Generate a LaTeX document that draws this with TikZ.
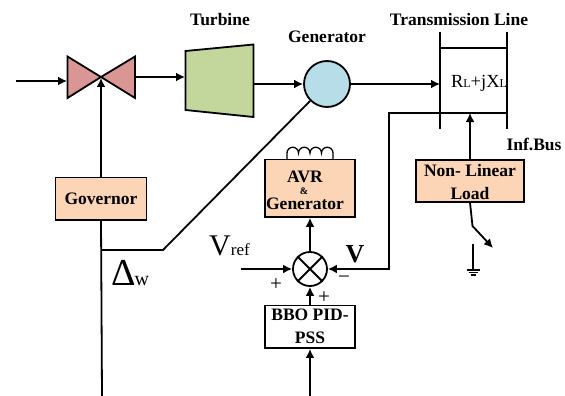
\documentclass[tikz,border=0pt]{standalone}
\usepackage{fontspec}
\setmainfont{Liberation Serif}
\usetikzlibrary{arrows.meta}
\tikzset{
  wire/.style={line width=1.8pt,-{Latex[length=9pt,width=9pt]}},
  plain/.style={line width=1.8pt},
  org/.style={draw,line width=1.8pt,fill=boxorange,inner sep=0pt},
  lab/.style={font=\fontsize{17.5}{18}\selectfont\bfseries,inner sep=0pt},
  thin lab/.style={font=\fontsize{21}{22}\selectfont,inner sep=0pt}
}
\definecolor{boxorange}{HTML}{FBD5B5}
\definecolor{valvered}{HTML}{D99694}
\definecolor{turbgreen}{HTML}{C3D69B}
\definecolor{genblue}{HTML}{B7DDE8}
\begin{document}
\begin{tikzpicture}[x=1pt,y=-1pt]
\useasboundingbox (0,0) rectangle (565,396);
% valve
\draw[plain,fill=valvered,line join=miter] (67.5,56.5) -- (101,77) -- (67.5,98) -- cycle;
\draw[plain,fill=valvered,line join=miter] (135,56.5) -- (101,77) -- (135,98) -- cycle;
\coordinate (valveIn) at (67,81);
\coordinate (valveOut) at (135,77);
\coordinate (valveMid) at (101,78);
\coordinate (src) at (16,81);
% turbine
\draw[plain,fill=turbgreen] (185.5,51) -- (253.5,44.5) -- (253.5,117) -- (185.5,110) -- cycle;
\coordinate (turbIn) at (185,77);
\coordinate (turbOut) at (253.5,84);
% generator
\node[draw,circle,line width=1.8pt,fill=genblue,minimum size=46pt,inner sep=0pt] (gen) at (327,84) {};
% transmission line
\coordinate (tlA) at (440,32); \coordinate (tlB) at (440,129);
\coordinate (tlC) at (507,32); \coordinate (tlD) at (507,129);
\draw[plain] (tlA) -- (tlB);
\draw[plain] (tlC) -- (tlD);
\draw[plain] (440,48) -- (507,48);
\coordinate (tlIn) at (440,84);
\coordinate (tlLoad) at (470,113);
\coordinate (tlRight) at (507,113);
\coordinate (tlCorner) at (389,113);
\coordinate (fbCorner) at (389,269);
% boxes
\node[org,minimum width=91pt,minimum height=42.5pt] (gov) at (101,198.7) {};
\node[org,minimum width=90.5pt,minimum height=57.5pt] (avr) at (310,188.2) {};
\node[org,minimum width=108pt,minimum height=42pt] (load) at (470,180.6) {};
\node[draw,line width=1.8pt,fill=white,minimum width=90.5pt,minimum height=42.5pt,inner sep=0pt] (bbo) at (310,326.8) {};
% sum
\node[draw,circle,line width=1.8pt,fill=white,minimum size=34pt,inner sep=0pt] (sum) at (310,269) {};
\draw[plain] (sum.45) -- (sum.225) (sum.135) -- (sum.315);
% connectors
\draw[wire] (src) -- (valveIn);
\draw[wire] (valveOut) -- (turbIn);
\draw[wire] (turbOut) -- (gen.west);
\draw[wire] (gen.east) -- (tlIn);
\draw[wire] (gov.north) -- (valveMid);
\coordinate (govBot) at (102,396);
\draw[plain] (gov.south) -- (govBot);
\coordinate (tap) at (101.5,250); \coordinate (bend) at (163,250);
\draw[plain,line join=miter] (tap) -- (bend) -- (gen.225);
\draw[wire,line join=miter] (tlRight) -- (tlCorner) -- (fbCorner) -- (sum.east);
\coordinate (refIn) at (241,269);
\draw[wire] (refIn) -- (sum.west);
\draw[wire] (sum.north) -- (avr.south);
\draw[wire] (bbo.north) -- (sum.south);
\coordinate (bboIn) at (310,396);
\draw[wire] (bboIn) -- (bbo.south);
\draw[wire] (load.north) -- (tlLoad);
% switch
\coordinate (swKnee) at (472.5,226); \coordinate (swEnd) at (493,248);
\draw[plain,-{Latex[length=9pt,width=9pt]}] (load.south) -- (swKnee) -- (swEnd);
% ground
\coordinate (gndTop) at (473,244); \coordinate (gndBase) at (473,270);
\draw[plain] (gndTop) -- (gndBase);
\draw[line width=1.2pt] (466.5,270) -- (479.5,270) (468.5,272.5) -- (477.5,272.5) (470.5,275) -- (475.5,275);
% coil
\coordinate (coilL) at (287,159.5); \coordinate (coilR) at (333,159.5);
\draw[line width=1.3pt] (coilL) -- (287,153)
  arc[start angle=180,end angle=360,radius=5.75]
  arc[start angle=180,end angle=360,radius=5.75]
  arc[start angle=180,end angle=360,radius=5.75]
  arc[start angle=180,end angle=360,radius=5.75] -- (coilR);
% labels
\node[lab] (tTurb) at (220,20) {Turbine};
\node[lab] (tGen) at (327,37) {Generator};
\node[lab] (tTL) at (459,20) {Transmission Line};
\node[lab] (tBus) at (534,144) {Inf.Bus};
\node[lab] (tGov) at (101,199) {Governor};
\node[lab] (tAvr) at (305,177) {AVR};
\node[font=\fontsize{10}{11}\selectfont\bfseries,inner sep=0pt] (tAmp) at (304,191) {\&};
\node[lab] (tAvrG) at (305,203.5) {Generator};
\node[lab] (tL1) at (470,171) {Non- Linear};
\node[lab] (tL2) at (470,193.5) {Load};
\node[lab] (tB1) at (310,315) {BBO PID-};
\node[lab] (tB2) at (310,338) {PSS};
\node[inner sep=0pt,font=\fontsize{18.5}{19}\selectfont] (tR) at (479,83) {R{\fontsize{12}{13}\selectfont L}+jX{\fontsize{12}{13}\selectfont L}};
\node[inner sep=0pt,font=\fontsize{26}{28}\selectfont\bfseries] (tV) at (355,254.5) {V};
\node[inner sep=0pt,anchor=base west,font=\fontsize{30}{32}\selectfont] (tVr) at (209,255) {V\kern0pt{\fontsize{17}{18}\selectfont ref}};
\node[inner sep=0pt,anchor=base west,font=\fontsize{38}{40}\selectfont] (tD) at (111,285) {Δ\kern-1pt{\fontsize{20}{21}\selectfont w}};
\node[thin lab] (p1) at (276,285) {+};
\node[thin lab] (p2) at (324,298) {+};
\node[thin lab] (m1) at (344,280) {\textminus};
\end{tikzpicture}
\end{document}
